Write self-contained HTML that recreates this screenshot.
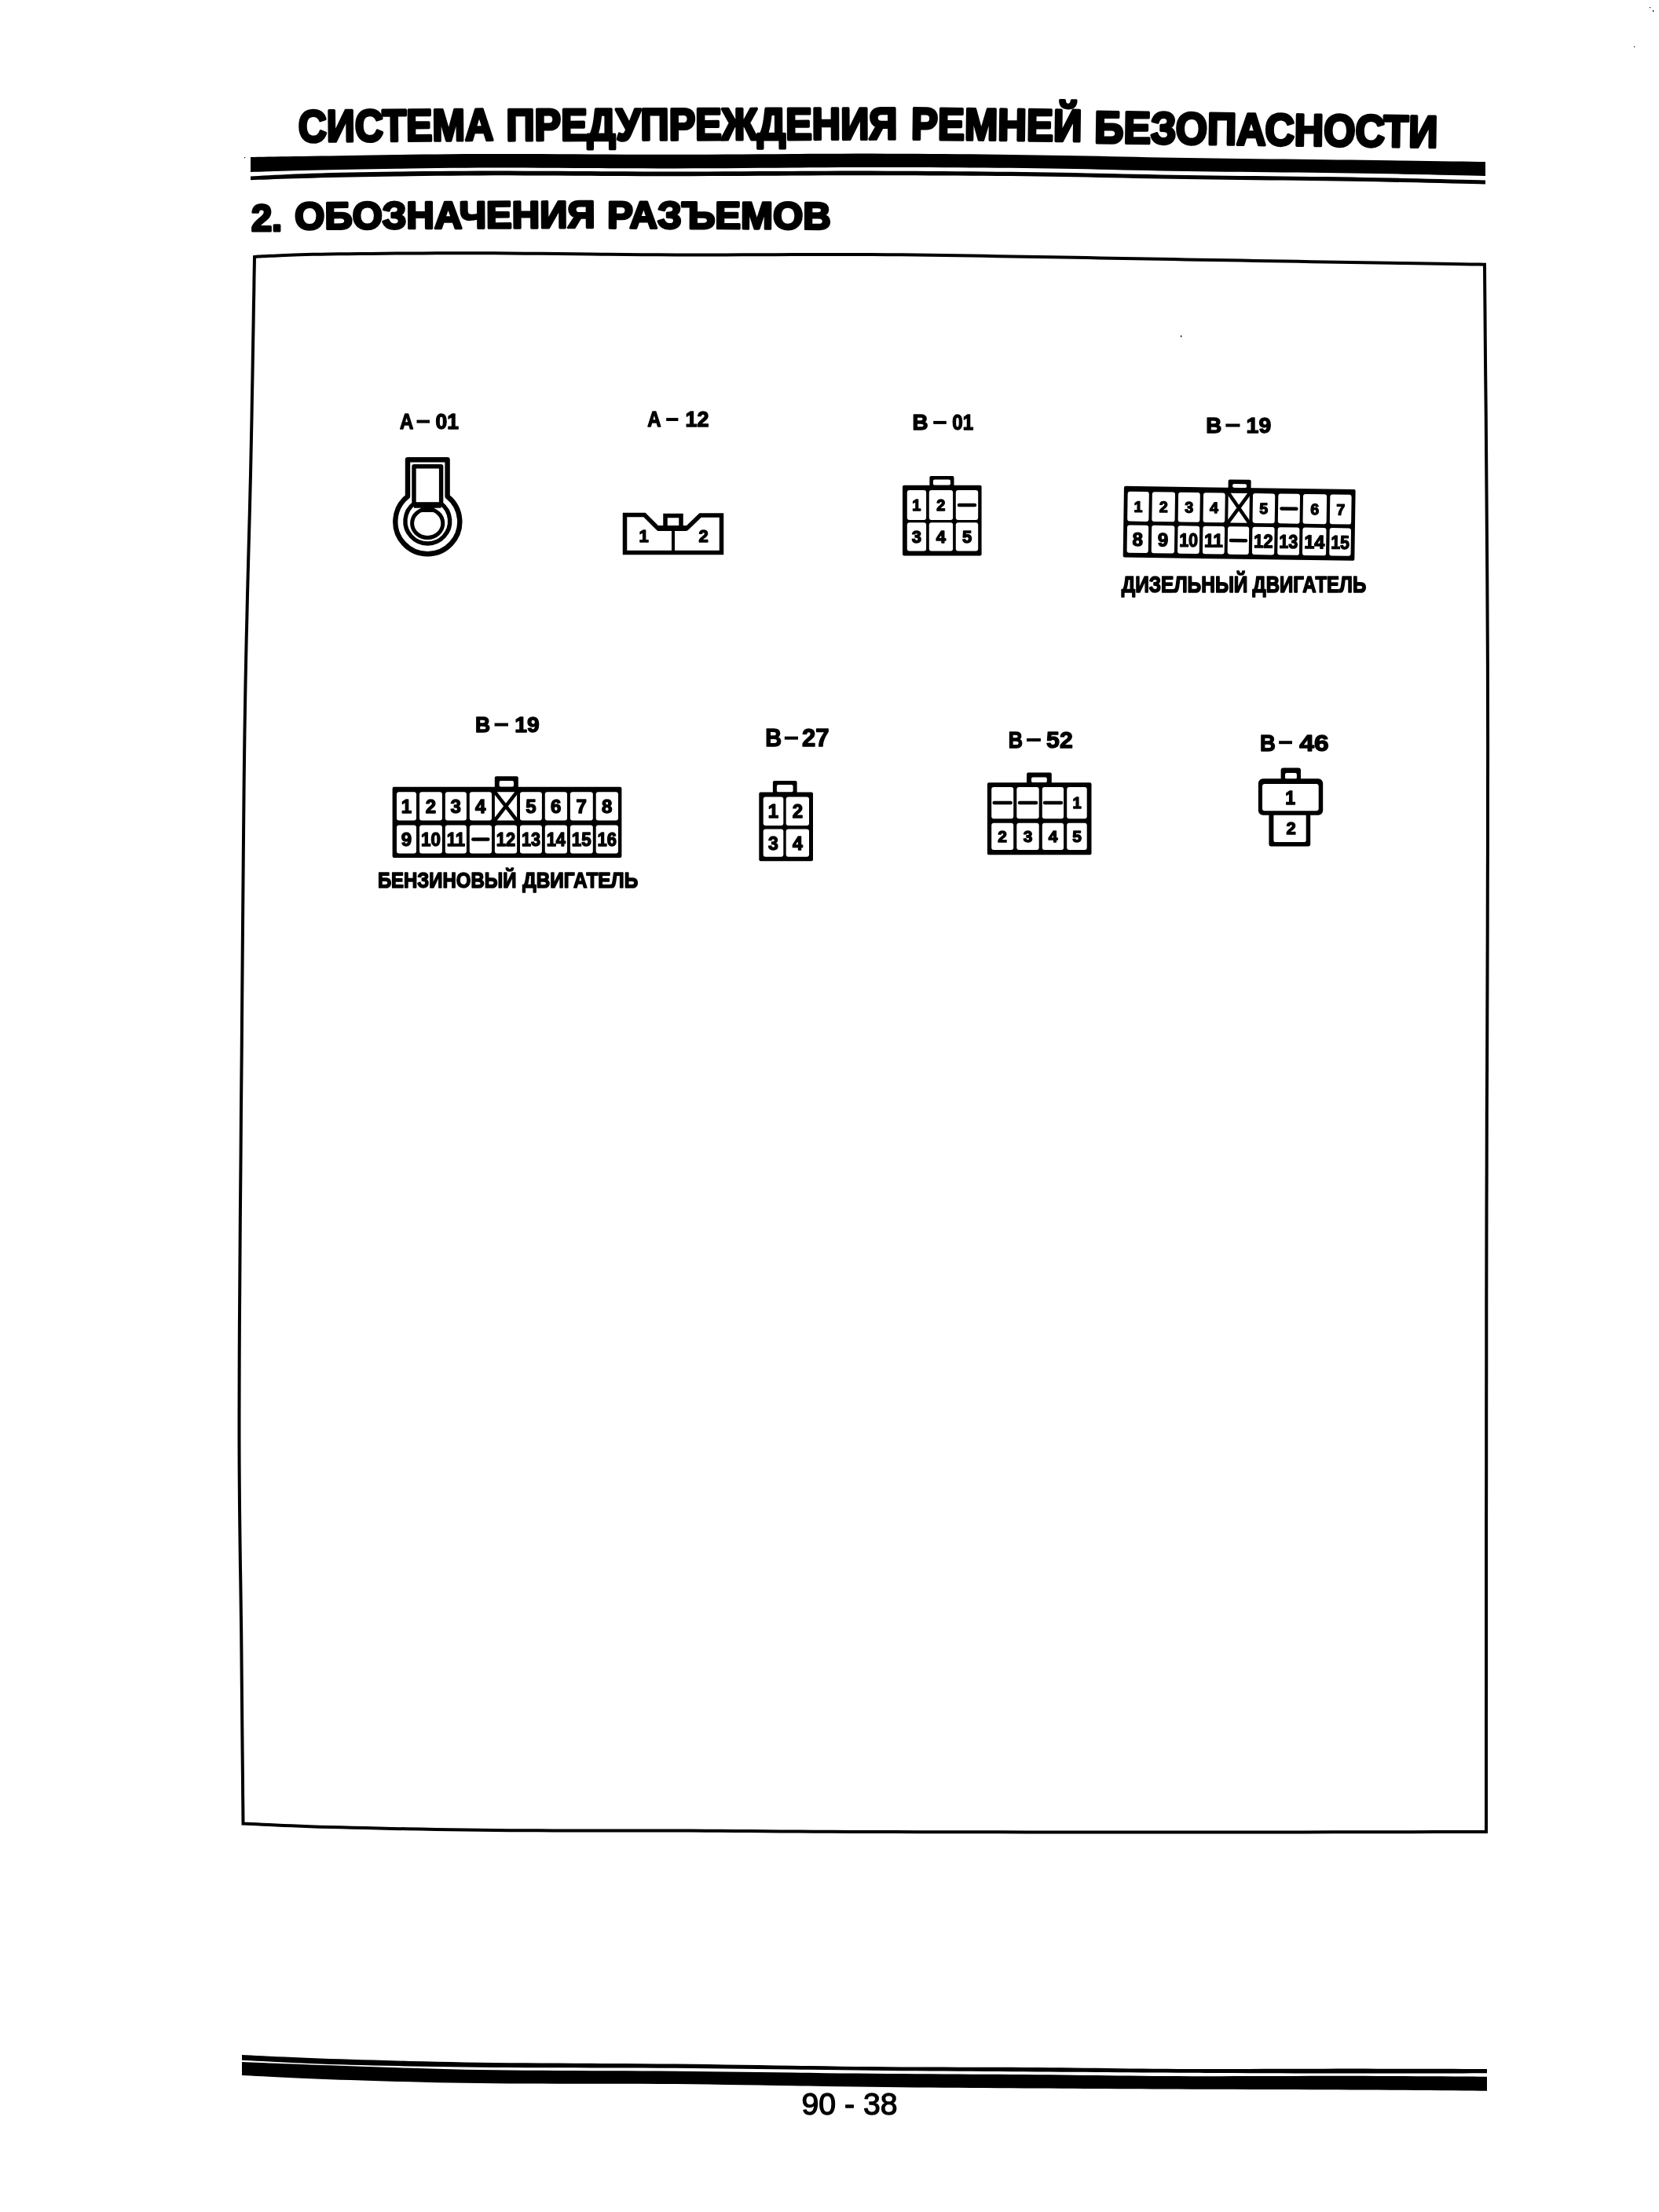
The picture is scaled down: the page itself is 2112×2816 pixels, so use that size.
<!DOCTYPE html>
<html><head><meta charset="utf-8">
<style>
html,body{margin:0;padding:0;background:#fff;}
body{width:2112px;height:2816px;overflow:hidden;position:relative;}
svg{position:absolute;left:0;top:0;will-change:transform;}
text{font-family:"Liberation Sans",sans-serif;fill:#000;}
</style></head>
<body>
<svg width="2112" height="2816" viewBox="0 0 2112 2816">
<polygon points="319.0,200.00 323.6,199.93 329.0,199.84 335.1,199.73 341.9,199.61 349.4,199.49 357.6,199.35 366.5,199.20 376.0,199.05 386.1,198.89 396.8,198.73 408.1,198.57 420.0,198.40 432.5,198.22 445.8,198.01 459.8,197.78 474.5,197.54 489.8,197.29 505.7,197.05 522.1,196.81 538.9,196.59 556.2,196.39 573.8,196.22 591.8,196.09 610.0,196.00 628.7,195.96 648.2,195.97 668.3,196.02 688.9,196.10 709.9,196.21 731.2,196.32 752.8,196.45 774.4,196.56 796.1,196.67 817.6,196.75 839.0,196.79 860.0,196.80 881.0,196.76 902.1,196.68 923.4,196.57 944.8,196.44 966.2,196.29 987.5,196.14 1008.7,195.99 1029.6,195.85 1050.3,195.74 1070.6,195.65 1090.6,195.60 1110.0,195.60 1129.0,195.64 1147.5,195.71 1165.8,195.80 1183.7,195.91 1201.3,196.05 1218.8,196.20 1235.9,196.37 1253.0,196.56 1269.8,196.75 1286.6,196.96 1303.3,197.18 1320.0,197.40 1336.5,197.64 1352.6,197.91 1368.4,198.20 1384.1,198.50 1399.6,198.82 1415.0,199.15 1430.4,199.48 1445.9,199.81 1461.6,200.13 1477.4,200.44 1493.5,200.73 1510.0,201.00 1526.9,201.25 1544.3,201.49 1562.0,201.72 1580.0,201.95 1598.1,202.16 1616.2,202.38 1634.3,202.58 1652.1,202.79 1669.8,202.99 1687.0,203.19 1703.8,203.39 1720.0,203.60 1736.2,203.81 1752.7,204.04 1769.5,204.27 1786.2,204.50 1802.7,204.74 1818.6,204.96 1833.8,205.18 1848.1,205.39 1861.2,205.57 1872.8,205.74 1882.9,205.88 1891.0,206.00 1891.0,224.00 1882.9,223.82 1872.8,223.59 1861.2,223.33 1848.1,223.02 1833.8,222.69 1818.6,222.35 1802.7,222.00 1786.2,221.64 1769.5,221.30 1752.7,220.97 1736.2,220.67 1720.0,220.40 1703.8,220.16 1687.0,219.95 1669.8,219.75 1652.1,219.56 1634.3,219.39 1616.2,219.21 1598.1,219.04 1580.0,218.86 1562.0,218.67 1544.3,218.47 1526.9,218.25 1510.0,218.00 1493.5,217.72 1477.4,217.42 1461.6,217.09 1445.9,216.74 1430.4,216.38 1415.0,216.02 1399.6,215.67 1384.1,215.33 1368.4,215.00 1352.6,214.70 1336.5,214.43 1320.0,214.20 1303.3,214.00 1286.6,213.82 1269.8,213.66 1253.0,213.51 1235.9,213.38 1218.8,213.27 1201.3,213.18 1183.7,213.11 1165.8,213.06 1147.5,213.02 1129.0,213.00 1110.0,213.00 1090.6,213.03 1070.6,213.11 1050.3,213.22 1029.6,213.36 1008.7,213.51 987.5,213.68 966.2,213.84 944.8,214.00 923.4,214.14 902.1,214.26 881.0,214.35 860.0,214.40 839.0,214.40 817.6,214.35 796.1,214.27 774.4,214.17 752.8,214.05 731.2,213.92 709.9,213.80 688.9,213.69 668.3,213.61 648.2,213.56 628.7,213.55 610.0,213.60 591.8,213.70 573.8,213.85 556.2,214.03 538.9,214.24 522.1,214.48 505.7,214.73 489.8,215.00 474.5,215.27 459.8,215.54 445.8,215.81 432.5,216.06 420.0,216.30 408.1,216.53 396.8,216.78 386.1,217.04 376.0,217.30 366.5,217.56 357.6,217.82 349.4,218.07 341.9,218.30 335.1,218.51 329.0,218.71 323.6,218.87 319.0,219.00" fill="#000"/>
<polygon points="319.0,224.40 323.6,224.19 329.0,223.91 335.1,223.59 341.9,223.22 349.4,222.82 357.6,222.41 366.5,221.98 376.0,221.56 386.1,221.15 396.8,220.76 408.1,220.41 420.0,220.10 432.5,219.82 445.8,219.54 459.8,219.27 474.5,219.01 489.8,218.76 505.7,218.52 522.1,218.31 538.9,218.11 556.2,217.94 573.8,217.80 591.8,217.68 610.0,217.60 628.7,217.56 648.2,217.57 668.3,217.63 688.9,217.71 709.9,217.83 731.2,217.95 752.8,218.08 774.4,218.21 796.1,218.32 817.6,218.41 839.0,218.48 860.0,218.50 881.0,218.48 902.1,218.42 923.4,218.34 944.8,218.24 966.2,218.12 987.5,218.00 1008.7,217.88 1029.6,217.77 1050.3,217.68 1070.6,217.62 1090.6,217.59 1110.0,217.60 1129.0,217.64 1147.5,217.71 1165.8,217.80 1183.7,217.90 1201.3,218.02 1218.8,218.16 1235.9,218.32 1253.0,218.49 1269.8,218.67 1286.6,218.87 1303.3,219.08 1320.0,219.30 1336.5,219.54 1352.6,219.81 1368.4,220.11 1384.1,220.43 1399.6,220.76 1415.0,221.09 1430.4,221.44 1445.9,221.77 1461.6,222.11 1477.4,222.42 1493.5,222.72 1510.0,223.00 1526.9,223.25 1544.3,223.48 1562.0,223.70 1580.0,223.90 1598.1,224.10 1616.2,224.29 1634.3,224.48 1652.1,224.68 1669.8,224.88 1687.0,225.10 1703.8,225.34 1720.0,225.60 1736.2,225.89 1752.7,226.22 1769.5,226.57 1786.2,226.95 1802.7,227.33 1818.6,227.71 1833.8,228.09 1848.1,228.44 1861.2,228.77 1872.8,229.06 1882.9,229.31 1891.0,229.50 1891.0,234.40 1882.9,234.22 1872.8,233.98 1861.2,233.71 1848.1,233.40 1833.8,233.06 1818.6,232.71 1802.7,232.35 1786.2,231.99 1769.5,231.63 1752.7,231.30 1736.2,230.98 1720.0,230.70 1703.8,230.45 1687.0,230.21 1669.8,230.00 1652.1,229.79 1634.3,229.59 1616.2,229.39 1598.1,229.20 1580.0,229.00 1562.0,228.79 1544.3,228.58 1526.9,228.35 1510.0,228.10 1493.5,227.83 1477.4,227.53 1461.6,227.22 1445.9,226.89 1430.4,226.55 1415.0,226.22 1399.6,225.89 1384.1,225.57 1368.4,225.26 1352.6,224.98 1336.5,224.72 1320.0,224.50 1303.3,224.30 1286.6,224.12 1269.8,223.96 1253.0,223.81 1235.9,223.68 1218.8,223.56 1201.3,223.46 1183.7,223.38 1165.8,223.31 1147.5,223.26 1129.0,223.22 1110.0,223.20 1090.6,223.21 1070.6,223.25 1050.3,223.33 1029.6,223.43 1008.7,223.54 987.5,223.67 966.2,223.79 944.8,223.91 923.4,224.02 902.1,224.11 881.0,224.17 860.0,224.20 839.0,224.19 817.6,224.13 796.1,224.04 774.4,223.94 752.8,223.82 731.2,223.69 709.9,223.58 688.9,223.47 668.3,223.40 648.2,223.35 628.7,223.35 610.0,223.40 591.8,223.50 573.8,223.64 556.2,223.82 538.9,224.03 522.1,224.26 505.7,224.51 489.8,224.77 474.5,225.04 459.8,225.31 445.8,225.59 432.5,225.85 420.0,226.10 408.1,226.35 396.8,226.63 386.1,226.92 376.0,227.22 366.5,227.52 357.6,227.82 349.4,228.11 341.9,228.38 335.1,228.63 329.0,228.86 323.6,229.05 319.0,229.20" fill="#000"/>
<polygon points="324.0,327.00 324.6,326.96 325.0,326.91 325.4,326.86 325.8,326.80 326.3,326.73 327.1,326.66 328.1,326.57 329.4,326.48 331.2,326.38 333.5,326.27 336.4,326.14 340.0,326.00 344.0,325.84 348.2,325.66 352.7,325.45 357.5,325.23 362.8,325.00 368.6,324.76 375.0,324.53 382.0,324.29 389.9,324.07 398.6,323.86 408.3,323.67 419.0,323.50 430.8,323.34 443.7,323.19 457.5,323.03 472.2,322.88 487.7,322.74 503.8,322.61 520.6,322.50 537.8,322.41 555.5,322.34 573.5,322.29 591.7,322.28 610.0,322.30 628.8,322.37 648.3,322.49 668.4,322.65 689.0,322.85 710.0,323.07 731.3,323.30 752.8,323.54 774.5,323.76 796.1,323.97 817.7,324.16 839.0,324.30 860.0,324.40 881.0,324.44 902.1,324.44 923.4,324.40 944.8,324.33 966.2,324.24 987.5,324.14 1008.7,324.05 1029.6,323.97 1050.3,323.92 1070.6,323.90 1090.6,323.92 1110.0,324.00 1129.0,324.13 1147.5,324.30 1165.8,324.50 1183.7,324.73 1201.3,324.99 1218.8,325.26 1235.9,325.55 1253.0,325.84 1269.8,326.14 1286.6,326.44 1303.3,326.73 1320.0,327.00 1336.5,327.27 1352.6,327.54 1368.4,327.82 1384.1,328.10 1399.6,328.38 1415.0,328.66 1430.4,328.95 1445.9,329.24 1461.6,329.53 1477.4,329.82 1493.5,330.11 1510.0,330.40 1526.9,330.70 1544.3,331.00 1562.0,331.31 1580.0,331.62 1598.1,331.93 1616.2,332.24 1634.3,332.55 1652.2,332.86 1669.8,333.16 1687.1,333.45 1703.8,333.73 1720.0,334.00 1736.1,334.27 1752.6,334.53 1769.3,334.80 1785.9,335.07 1802.3,335.33 1818.1,335.57 1833.2,335.81 1847.4,336.03 1860.4,336.24 1872.0,336.42 1881.9,336.57 1890.0,336.70 1890.2,363.48 1890.5,396.40 1890.8,434.71 1891.2,477.68 1891.7,524.55 1892.1,574.60 1892.5,627.08 1892.9,681.24 1893.3,736.36 1893.6,791.69 1893.9,846.48 1894.0,900.00 1894.1,953.45 1894.0,1008.39 1894.0,1064.64 1893.8,1122.02 1893.7,1180.36 1893.5,1239.46 1893.3,1299.14 1893.1,1359.23 1892.8,1419.55 1892.7,1479.90 1892.5,1540.11 1892.4,1600.00 1892.3,1662.21 1892.3,1728.62 1892.2,1797.91 1892.2,1868.74 1892.1,1939.80 1892.1,2009.75 1892.1,2077.27 1892.1,2141.04 1892.0,2199.72 1892.0,2251.99 1892.0,2296.53 1892.0,2332.00 1874.1,2332.03 1852.0,2332.07 1826.0,2332.11 1797.0,2332.17 1765.3,2332.22 1731.6,2332.28 1696.5,2332.34 1660.6,2332.39 1624.4,2332.43 1588.5,2332.47 1553.5,2332.49 1520.0,2332.50 1486.7,2332.50 1452.0,2332.49 1416.4,2332.47 1380.2,2332.44 1343.8,2332.41 1307.4,2332.38 1271.4,2332.33 1236.2,2332.28 1202.1,2332.22 1169.5,2332.15 1138.7,2332.08 1110.0,2332.00 1083.5,2331.91 1058.8,2331.80 1035.8,2331.67 1014.1,2331.54 993.5,2331.40 973.8,2331.25 954.6,2331.10 935.9,2330.96 917.3,2330.83 898.7,2330.70 879.6,2330.59 860.0,2330.50 840.1,2330.43 820.3,2330.40 800.6,2330.39 781.1,2330.39 761.7,2330.40 742.5,2330.41 723.4,2330.41 704.4,2330.39 685.6,2330.35 666.9,2330.27 648.4,2330.16 630.0,2330.00 611.5,2329.79 592.7,2329.54 573.8,2329.26 554.8,2328.94 536.0,2328.61 517.5,2328.25 499.4,2327.88 481.9,2327.50 465.0,2327.12 449.0,2326.74 434.0,2326.36 420.0,2326.00 407.0,2325.63 394.5,2325.23 382.8,2324.80 371.7,2324.37 361.3,2323.93 351.6,2323.50 342.7,2323.08 334.5,2322.69 327.0,2322.32 320.4,2322.00 314.5,2321.72 309.5,2321.50 309.4,2311.05 309.3,2298.31 309.1,2283.54 309.0,2266.98 308.8,2248.89 308.6,2229.50 308.4,2209.07 308.2,2187.85 308.0,2166.09 307.8,2144.02 307.6,2121.91 307.4,2100.00 307.2,2078.38 306.9,2056.86 306.6,2035.21 306.3,2013.22 305.9,1990.69 305.6,1967.41 305.3,1943.15 305.0,1917.72 304.8,1890.90 304.6,1862.48 304.5,1832.25 304.5,1800.00 304.6,1765.02 304.7,1727.08 304.9,1686.72 305.2,1644.44 305.5,1600.78 305.8,1556.25 306.2,1511.37 306.6,1466.67 306.9,1422.66 307.3,1379.86 307.7,1338.80 308.0,1300.00 308.3,1262.91 308.6,1226.62 308.9,1191.09 309.2,1156.30 309.5,1122.19 309.8,1088.75 310.1,1055.93 310.4,1023.70 310.7,992.03 311.1,960.88 311.5,930.21 312.0,900.00 312.5,870.32 313.1,841.26 313.7,812.80 314.4,784.93 315.0,757.60 315.7,730.81 316.4,704.53 317.1,678.74 317.8,653.41 318.4,628.53 319.0,604.07 319.5,580.00 320.0,555.77 320.5,531.03 320.9,506.11 321.4,481.33 321.8,457.02 322.2,433.50 322.6,411.09 322.9,390.11 323.3,370.89 323.5,353.75 323.8,339.01" fill="none" stroke="#000" stroke-width="4.0" stroke-linejoin="miter"/>
<polygon points="308.0,2616.00 313.2,2616.24 319.3,2616.53 326.3,2616.88 334.1,2617.27 342.8,2617.70 352.1,2618.15 362.1,2618.62 372.7,2619.09 383.9,2619.57 395.5,2620.03 407.6,2620.48 420.0,2620.90 432.9,2621.31 446.5,2621.74 460.6,2622.18 475.3,2622.61 490.6,2623.05 506.4,2623.49 522.6,2623.91 539.3,2624.32 556.5,2624.71 574.0,2625.07 591.8,2625.40 610.0,2625.70 628.7,2625.95 648.2,2626.17 668.3,2626.34 688.9,2626.49 709.9,2626.62 731.2,2626.73 752.8,2626.84 774.4,2626.96 796.1,2627.08 817.6,2627.22 839.0,2627.39 860.0,2627.60 881.0,2627.84 902.1,2628.12 923.4,2628.42 944.8,2628.74 966.2,2629.08 987.5,2629.41 1008.7,2629.74 1029.6,2630.07 1050.3,2630.37 1070.6,2630.65 1090.6,2630.89 1110.0,2631.10 1129.0,2631.26 1147.7,2631.39 1166.0,2631.48 1184.1,2631.56 1201.9,2631.61 1219.4,2631.65 1236.7,2631.69 1253.7,2631.72 1270.5,2631.77 1287.2,2631.82 1303.7,2631.90 1320.0,2632.00 1335.9,2632.13 1351.3,2632.28 1366.2,2632.46 1380.7,2632.64 1395.1,2632.83 1409.4,2633.02 1423.7,2633.21 1438.1,2633.39 1452.9,2633.56 1468.0,2633.70 1483.7,2633.82 1500.0,2633.90 1517.1,2633.95 1534.9,2633.97 1553.3,2633.96 1572.1,2633.94 1591.2,2633.90 1610.4,2633.84 1629.6,2633.79 1648.7,2633.73 1667.4,2633.68 1685.6,2633.63 1703.2,2633.61 1720.0,2633.60 1736.6,2633.61 1753.6,2633.63 1770.6,2633.66 1787.6,2633.70 1804.2,2633.74 1820.2,2633.78 1835.6,2633.83 1849.9,2633.87 1863.0,2633.91 1874.7,2633.95 1884.8,2633.98 1893.0,2634.00 1893.0,2639.30 1884.8,2639.32 1874.7,2639.35 1863.0,2639.38 1849.9,2639.42 1835.6,2639.46 1820.2,2639.51 1804.2,2639.54 1787.6,2639.58 1770.6,2639.60 1753.6,2639.62 1736.6,2639.62 1720.0,2639.60 1703.2,2639.57 1685.6,2639.52 1667.4,2639.47 1648.7,2639.40 1629.6,2639.33 1610.4,2639.25 1591.2,2639.16 1572.1,2639.07 1553.3,2638.98 1534.9,2638.89 1517.1,2638.79 1500.0,2638.70 1483.7,2638.61 1468.0,2638.51 1452.9,2638.41 1438.1,2638.31 1423.7,2638.20 1409.4,2638.09 1395.1,2637.98 1380.7,2637.87 1366.2,2637.76 1351.3,2637.64 1335.9,2637.52 1320.0,2637.40 1303.7,2637.28 1287.2,2637.17 1270.5,2637.05 1253.7,2636.94 1236.7,2636.83 1219.4,2636.71 1201.9,2636.58 1184.1,2636.45 1166.0,2636.31 1147.7,2636.15 1129.0,2635.98 1110.0,2635.80 1090.6,2635.59 1070.6,2635.36 1050.3,2635.10 1029.6,2634.83 1008.7,2634.55 987.5,2634.26 966.2,2633.98 944.8,2633.70 923.4,2633.44 902.1,2633.20 881.0,2632.98 860.0,2632.80 839.0,2632.66 817.6,2632.55 796.1,2632.48 774.4,2632.43 752.8,2632.39 731.2,2632.36 709.9,2632.32 688.9,2632.27 668.3,2632.21 648.2,2632.11 628.7,2631.98 610.0,2631.80 591.8,2631.58 574.0,2631.33 556.5,2631.06 539.3,2630.76 522.6,2630.45 506.4,2630.11 490.6,2629.76 475.3,2629.40 460.6,2629.03 446.5,2628.66 432.9,2628.28 420.0,2627.90 407.6,2627.50 395.5,2627.05 383.9,2626.57 372.7,2626.07 362.1,2625.56 352.1,2625.06 342.8,2624.56 334.1,2624.10 326.3,2623.66 319.3,2623.28 313.2,2622.96 308.0,2622.70" fill="#000"/>
<polygon points="308.0,2625.00 313.2,2625.20 319.3,2625.45 326.3,2625.74 334.1,2626.06 342.8,2626.42 352.1,2626.79 362.1,2627.19 372.7,2627.60 383.9,2628.03 395.5,2628.45 407.6,2628.88 420.0,2629.30 432.9,2629.74 446.5,2630.21 460.6,2630.72 475.3,2631.24 490.6,2631.77 506.4,2632.31 522.6,2632.83 539.3,2633.34 556.5,2633.82 574.0,2634.26 591.8,2634.66 610.0,2635.00 628.7,2635.28 648.2,2635.51 668.3,2635.70 688.9,2635.84 709.9,2635.97 731.2,2636.07 752.8,2636.16 774.4,2636.26 796.1,2636.36 817.6,2636.48 839.0,2636.62 860.0,2636.80 881.0,2637.01 902.1,2637.25 923.4,2637.50 944.8,2637.77 966.2,2638.05 987.5,2638.32 1008.7,2638.60 1029.6,2638.87 1050.3,2639.13 1070.6,2639.38 1090.6,2639.60 1110.0,2639.80 1129.0,2639.97 1147.7,2640.12 1166.0,2640.25 1184.1,2640.37 1201.9,2640.47 1219.4,2640.57 1236.7,2640.66 1253.7,2640.76 1270.5,2640.85 1287.2,2640.96 1303.7,2641.07 1320.0,2641.20 1335.9,2641.35 1351.3,2641.51 1366.2,2641.69 1380.7,2641.88 1395.1,2642.07 1409.4,2642.26 1423.7,2642.44 1438.1,2642.61 1452.9,2642.77 1468.0,2642.90 1483.7,2643.02 1500.0,2643.10 1517.1,2643.15 1534.9,2643.16 1553.3,2643.15 1572.1,2643.12 1591.2,2643.07 1610.4,2643.01 1629.6,2642.95 1648.7,2642.89 1667.4,2642.84 1685.6,2642.81 1703.2,2642.79 1720.0,2642.80 1736.6,2642.84 1753.6,2642.89 1770.6,2642.96 1787.6,2643.04 1804.2,2643.14 1820.2,2643.23 1835.6,2643.33 1849.9,2643.42 1863.0,2643.51 1874.7,2643.59 1884.8,2643.65 1893.0,2643.70 1893.0,2661.70 1884.8,2661.64 1874.7,2661.55 1863.0,2661.45 1849.9,2661.34 1835.6,2661.23 1820.2,2661.10 1804.2,2660.97 1787.6,2660.84 1770.6,2660.72 1753.6,2660.60 1736.6,2660.49 1720.0,2660.40 1703.2,2660.32 1685.6,2660.24 1667.4,2660.17 1648.7,2660.11 1629.6,2660.05 1610.4,2659.99 1591.2,2659.93 1572.1,2659.87 1553.3,2659.81 1534.9,2659.74 1517.1,2659.68 1500.0,2659.60 1483.7,2659.52 1468.0,2659.44 1452.9,2659.36 1438.1,2659.28 1423.7,2659.19 1409.4,2659.11 1395.1,2659.02 1380.7,2658.92 1366.2,2658.82 1351.3,2658.72 1335.9,2658.61 1320.0,2658.50 1303.7,2658.39 1287.2,2658.27 1270.5,2658.16 1253.7,2658.05 1236.7,2657.94 1219.4,2657.81 1201.9,2657.68 1184.1,2657.54 1166.0,2657.38 1147.7,2657.21 1129.0,2657.01 1110.0,2656.80 1090.6,2656.55 1070.6,2656.27 1050.3,2655.95 1029.6,2655.61 1008.7,2655.26 987.5,2654.91 966.2,2654.55 944.8,2654.21 923.4,2653.88 902.1,2653.58 881.0,2653.32 860.0,2653.10 839.0,2652.93 817.6,2652.82 796.1,2652.75 774.4,2652.71 752.8,2652.69 731.2,2652.67 709.9,2652.66 688.9,2652.62 668.3,2652.56 648.2,2652.46 628.7,2652.31 610.0,2652.10 591.8,2651.83 574.0,2651.51 556.5,2651.16 539.3,2650.77 522.6,2650.35 506.4,2649.91 490.6,2649.46 475.3,2649.00 460.6,2648.54 446.5,2648.08 432.9,2647.63 420.0,2647.20 407.6,2646.76 395.5,2646.29 383.9,2645.80 372.7,2645.30 362.1,2644.79 352.1,2644.29 342.8,2643.81 334.1,2643.36 326.3,2642.94 319.3,2642.57 313.2,2642.25 308.0,2642.00" fill="#000"/>
<g transform="rotate(-0.5 504 179.3)"><text x="380.0" y="179.3" font-size="56.8" font-weight="bold" text-anchor="start" textLength="248.27" lengthAdjust="spacingAndGlyphs" stroke="#000" stroke-width="3.8" stroke-linejoin="round">СИСТЕМА</text></g>
<g transform="rotate(-0.2 894 177.8)"><text x="644.4" y="177.8" font-size="56.8" font-weight="bold" text-anchor="start" textLength="498.13" lengthAdjust="spacingAndGlyphs" stroke="#000" stroke-width="3.8" stroke-linejoin="round">ПРЕДУПРЕЖДЕНИЯ</text></g>
<g transform="rotate(0.7 1268 178.3)"><text x="1159.8" y="178.3" font-size="56.8" font-weight="bold" text-anchor="start" textLength="217.42" lengthAdjust="spacingAndGlyphs" stroke="#000" stroke-width="3.8" stroke-linejoin="round">РЕМНЕЙ</text></g>
<g transform="rotate(0.8 1612 184.5)"><text x="1393.1" y="184.5" font-size="56.8" font-weight="bold" text-anchor="start" textLength="437.04" lengthAdjust="spacingAndGlyphs" stroke="#000" stroke-width="3.8" stroke-linejoin="round">БЕЗОПАСНОСТИ</text></g>
<g transform="rotate(0 338 294.4)"><text x="319.9" y="294.4" font-size="48.3" font-weight="bold" text-anchor="start" textLength="39.32" lengthAdjust="spacingAndGlyphs" stroke="#000" stroke-width="3.2" stroke-linejoin="round">2.</text></g>
<g transform="rotate(-0.31 566 290.6)"><text x="375.3" y="290.6" font-size="48.3" font-weight="bold" text-anchor="start" textLength="382.4" lengthAdjust="spacingAndGlyphs" stroke="#000" stroke-width="3.2" stroke-linejoin="round">ОБОЗНАЧЕНИЯ</text></g>
<g transform="rotate(0.29 916 290.9)"><text x="773.0" y="290.9" font-size="48.3" font-weight="bold" text-anchor="start" textLength="284.65" lengthAdjust="spacingAndGlyphs" stroke="#000" stroke-width="3.2" stroke-linejoin="round">РАЗЪЕМОВ</text></g>
<text x="1020.5" y="2691.6" font-size="38.2" font-weight="normal" text-anchor="start" textLength="122" lengthAdjust="spacingAndGlyphs" stroke="#000" stroke-width="1.3" stroke-linejoin="round">90 - 38</text>
<rect x="2100" y="9" width="1.2" height="1.2" fill="#000"/><rect x="2104" y="13" width="1.2" height="2" fill="#000"/><rect x="2080" y="59" width="1.2" height="1.2" fill="#000"/><rect x="1503" y="427" width="1.3" height="2.2" fill="#000"/><rect x="311" y="200" width="1.2" height="1.2" fill="#000"/>
<text x="509.0" y="545.9000000000001" font-size="27.5" font-weight="bold" text-anchor="start" textLength="17.31" lengthAdjust="spacingAndGlyphs" stroke="#000" stroke-width="1.4" stroke-linejoin="round">A</text><rect x="530.5" y="534.6" width="16.5" height="4" fill="#000"/><text x="554.6" y="545.9000000000001" font-size="27.5" font-weight="bold" text-anchor="start" textLength="29.46" lengthAdjust="spacingAndGlyphs" stroke="#000" stroke-width="1.4" stroke-linejoin="round">01</text>
<text x="824.2" y="543.2" font-size="27.5" font-weight="bold" text-anchor="start" textLength="17.31" lengthAdjust="spacingAndGlyphs" stroke="#000" stroke-width="1.4" stroke-linejoin="round">A</text><rect x="848.2" y="532.0" width="15.2" height="4" fill="#000"/><text x="872.5" y="543.2" font-size="27.5" font-weight="bold" text-anchor="start" textLength="29.95" lengthAdjust="spacingAndGlyphs" stroke="#000" stroke-width="1.4" stroke-linejoin="round">12</text>
<text x="1161.6" y="546.9000000000001" font-size="27.5" font-weight="bold" text-anchor="start" textLength="20.07" lengthAdjust="spacingAndGlyphs" stroke="#000" stroke-width="1.4" stroke-linejoin="round">B</text><rect x="1188.2" y="535.9" width="16.6" height="4" fill="#000"/><text x="1212.3" y="546.9000000000001" font-size="27.5" font-weight="bold" text-anchor="start" textLength="26.84" lengthAdjust="spacingAndGlyphs" stroke="#000" stroke-width="1.4" stroke-linejoin="round">01</text>
<text x="1535.3" y="551.2" font-size="28.5" font-weight="bold" text-anchor="start" textLength="20.07" lengthAdjust="spacingAndGlyphs" stroke="#000" stroke-width="1.4" stroke-linejoin="round">B</text><rect x="1560.4" y="539.5" width="18.1" height="4" fill="#000"/><text x="1586.6" y="551.2" font-size="28.5" font-weight="bold" text-anchor="start" textLength="31.59" lengthAdjust="spacingAndGlyphs" stroke="#000" stroke-width="1.4" stroke-linejoin="round">19</text>
<text x="605.0" y="932.0" font-size="28" font-weight="bold" text-anchor="start" textLength="19.14" lengthAdjust="spacingAndGlyphs" stroke="#000" stroke-width="1.4" stroke-linejoin="round">B</text><rect x="629.6" y="920.5" width="17.4" height="4" fill="#000"/><text x="655.3" y="932.0" font-size="28" font-weight="bold" text-anchor="start" textLength="31.39" lengthAdjust="spacingAndGlyphs" stroke="#000" stroke-width="1.4" stroke-linejoin="round">19</text>
<text x="974.3" y="949.9000000000001" font-size="30.5" font-weight="bold" text-anchor="start" textLength="20.82" lengthAdjust="spacingAndGlyphs" stroke="#000" stroke-width="1.4" stroke-linejoin="round">B</text><rect x="998.8" y="937.6" width="17.2" height="4" fill="#000"/><text x="1021.0" y="949.9000000000001" font-size="30.5" font-weight="bold" text-anchor="start" textLength="34.6" lengthAdjust="spacingAndGlyphs" stroke="#000" stroke-width="1.4" stroke-linejoin="round">27</text>
<text x="1283.8" y="952.0" font-size="30" font-weight="bold" text-anchor="start" textLength="18.25" lengthAdjust="spacingAndGlyphs" stroke="#000" stroke-width="1.4" stroke-linejoin="round">B</text><rect x="1307" y="939.9" width="17.9" height="4" fill="#000"/><text x="1332.1" y="952.0" font-size="30" font-weight="bold" text-anchor="start" textLength="33.63" lengthAdjust="spacingAndGlyphs" stroke="#000" stroke-width="1.4" stroke-linejoin="round">52</text>
<text x="1603.9" y="955.7" font-size="30" font-weight="bold" text-anchor="start" textLength="19.86" lengthAdjust="spacingAndGlyphs" stroke="#000" stroke-width="1.4" stroke-linejoin="round">B</text><rect x="1628.1" y="943.2" width="16.9" height="4" fill="#000"/><text x="1654.3" y="955.7" font-size="30" font-weight="bold" text-anchor="start" textLength="37.38" lengthAdjust="spacingAndGlyphs" stroke="#000" stroke-width="1.4" stroke-linejoin="round">46</text>
<text x="1427.7" y="753.6" font-size="29.1" font-weight="bold" text-anchor="start" textLength="160.77" lengthAdjust="spacingAndGlyphs" stroke="#000" stroke-width="1.6" stroke-linejoin="round">ДИЗЕЛЬНЫЙ</text>
<text x="1594.6" y="753.8" font-size="29.1" font-weight="bold" text-anchor="start" textLength="144.55" lengthAdjust="spacingAndGlyphs" stroke="#000" stroke-width="1.6" stroke-linejoin="round">ДВИГАТЕЛЬ</text>
<text x="480.9" y="1130" font-size="27.5" font-weight="bold" text-anchor="start" textLength="176.56" lengthAdjust="spacingAndGlyphs" stroke="#000" stroke-width="1.6" stroke-linejoin="round">БЕНЗИНОВЫЙ</text>
<text x="665.3" y="1130" font-size="27.5" font-weight="bold" text-anchor="start" textLength="146.87" lengthAdjust="spacingAndGlyphs" stroke="#000" stroke-width="1.6" stroke-linejoin="round">ДВИГАТЕЛЬ</text>
<g><path d="M519.0,631.94 V585.2 H569.5999999999999 V631.94 A41.0,41.0 0 1 1 519.0,631.94 Z" fill="none" stroke="#000" stroke-width="6.4" stroke-linejoin="round"/><path d="M527.0,641.08 V593.8 H561.5999999999999 V641.08 A28.4,28.4 0 1 1 527.0,641.08 Z" fill="none" stroke="#000" stroke-width="5.4" stroke-linejoin="round"/><rect x="527.0" y="639.2" width="34.6" height="7.5" fill="#000"/><rect x="536" y="644" width="17" height="8" fill="#000"/><ellipse cx="544.2" cy="666.3" rx="19.6" ry="18.2" fill="none" stroke="#000" stroke-width="5"/></g>
<path d="M795.5,655.5 H820.5 L837.5,672.5 H847 V656.5 H867 V672.5 H874.5 L891.5,656 H918.5 V703.5 H795.5 Z" fill="none" stroke="#000" stroke-width="5.5" stroke-linejoin="miter"/>
<path d="M837,672.5 H874.5" stroke="#000" stroke-width="7"/>
<line x1="857" y1="674" x2="857" y2="703" stroke="#000" stroke-width="4"/>
<text x="819.5" y="690" font-size="22" font-weight="bold" text-anchor="middle" stroke="#000" stroke-width="1.4" stroke-linejoin="round">1</text>
<text x="895.5" y="690" font-size="22" font-weight="bold" text-anchor="middle" stroke="#000" stroke-width="1.4" stroke-linejoin="round">2</text>
<rect x="1183.4" y="605.9" width="31.09999999999991" height="18.099999999999977" rx="2" fill="#000"/><rect x="1187.9" y="610.4" width="22.09999999999991" height="7.399999999999977" rx="2" fill="#fff"/><rect x="1149" y="617.8" width="100.59999999999991" height="89.70000000000005" rx="2" fill="#000"/><rect x="1154.8" y="624.0" width="24.3" height="37.9" rx="3" fill="#fff"/><rect x="1182.8" y="624.0" width="30.3" height="37.9" rx="3" fill="#fff"/><rect x="1216.8" y="624.0" width="28.4" height="37.9" rx="3" fill="#fff"/><rect x="1154.8" y="665.3" width="24.3" height="36.1" rx="3" fill="#fff"/><rect x="1182.8" y="665.3" width="30.3" height="36.1" rx="3" fill="#fff"/><rect x="1216.8" y="665.3" width="28.4" height="36.1" rx="3" fill="#fff"/><text x="1166.9" y="650.2" font-size="20" font-weight="bold" text-anchor="middle" stroke="#000" stroke-width="1.4" stroke-linejoin="round">1</text><text x="1197.9" y="650.2" font-size="20" font-weight="bold" text-anchor="middle" stroke="#000" stroke-width="1.4" stroke-linejoin="round">2</text><line x1="1221.0" y1="643.0" x2="1241.0" y2="643.0" stroke="#000" stroke-width="4.5" stroke-linecap="round"/><text x="1166.9" y="691.3" font-size="22" font-weight="bold" text-anchor="middle" stroke="#000" stroke-width="1.4" stroke-linejoin="round">3</text><text x="1197.9" y="691.3" font-size="22" font-weight="bold" text-anchor="middle" stroke="#000" stroke-width="1.4" stroke-linejoin="round">4</text><text x="1231.0" y="691.3" font-size="22" font-weight="bold" text-anchor="middle" stroke="#000" stroke-width="1.4" stroke-linejoin="round">5</text>
<g transform="rotate(0.83 1577.7 666.3)"><rect x="1562.9" y="610.6" width="29.0" height="17.150000000000023" rx="2" fill="#000"/><rect x="1568.4" y="616.1" width="18.0" height="4.899999999999977" rx="2" fill="#fff"/><rect x="1430.3" y="620.95" width="294.70000000000005" height="90.69999999999993" rx="2" fill="#000"/><rect x="1435.1" y="627.8" width="27.2" height="37.8" rx="3" fill="#fff"/><rect x="1466.3" y="627.8" width="29.2" height="37.8" rx="3" fill="#fff"/><rect x="1499.6" y="627.8" width="27.7" height="37.8" rx="3" fill="#fff"/><rect x="1531.5" y="627.8" width="27.7" height="37.8" rx="3" fill="#fff"/><rect x="1563.2" y="627.8" width="27.1" height="37.8" rx="3" fill="#fff"/><rect x="1594.5" y="627.8" width="28.2" height="37.8" rx="3" fill="#fff"/><rect x="1626.8" y="627.8" width="27.7" height="37.8" rx="3" fill="#fff"/><rect x="1658.5" y="627.8" width="30.1" height="37.8" rx="3" fill="#fff"/><rect x="1692.8" y="627.8" width="27.3" height="37.8" rx="3" fill="#fff"/><rect x="1435.1" y="670.4" width="27.2" height="35.4" rx="3" fill="#fff"/><rect x="1466.3" y="670.4" width="29.2" height="35.4" rx="3" fill="#fff"/><rect x="1499.6" y="670.4" width="27.7" height="35.4" rx="3" fill="#fff"/><rect x="1531.5" y="670.4" width="27.7" height="35.4" rx="3" fill="#fff"/><rect x="1563.2" y="670.4" width="27.1" height="35.4" rx="3" fill="#fff"/><rect x="1594.5" y="670.4" width="28.2" height="35.4" rx="3" fill="#fff"/><rect x="1626.8" y="670.4" width="27.7" height="35.4" rx="3" fill="#fff"/><rect x="1658.5" y="670.4" width="30.1" height="35.4" rx="3" fill="#fff"/><rect x="1692.8" y="670.4" width="27.3" height="35.4" rx="3" fill="#fff"/><text x="1448.7" y="653.6" font-size="19.5" font-weight="bold" text-anchor="middle" stroke="#000" stroke-width="1.4" stroke-linejoin="round">1</text><text x="1480.9" y="653.6" font-size="19.5" font-weight="bold" text-anchor="middle" stroke="#000" stroke-width="1.4" stroke-linejoin="round">2</text><text x="1513.5" y="653.6" font-size="19.5" font-weight="bold" text-anchor="middle" stroke="#000" stroke-width="1.4" stroke-linejoin="round">3</text><text x="1545.3" y="653.6" font-size="19.5" font-weight="bold" text-anchor="middle" stroke="#000" stroke-width="1.4" stroke-linejoin="round">4</text><path d="M1563.25,627.75 L1590.3500000000001,665.5 M1590.3500000000001,627.75 L1563.25,665.5" stroke="#000" stroke-width="4.5"/><text x="1608.6" y="653.6" font-size="19.5" font-weight="bold" text-anchor="middle" stroke="#000" stroke-width="1.4" stroke-linejoin="round">5</text><line x1="1631.1" y1="646.6" x2="1650.1" y2="646.6" stroke="#000" stroke-width="4.5" stroke-linecap="round"/><text x="1673.6" y="653.6" font-size="19.5" font-weight="bold" text-anchor="middle" stroke="#000" stroke-width="1.4" stroke-linejoin="round">6</text><text x="1706.4" y="653.6" font-size="19.5" font-weight="bold" text-anchor="middle" stroke="#000" stroke-width="1.4" stroke-linejoin="round">7</text><text x="1448.7" y="696.8" font-size="24" font-weight="bold" text-anchor="middle" stroke="#000" stroke-width="1.4" stroke-linejoin="round">8</text><text x="1480.9" y="696.8" font-size="24" font-weight="bold" text-anchor="middle" stroke="#000" stroke-width="1.4" stroke-linejoin="round">9</text><text x="1513.5" y="696.8" font-size="24" font-weight="bold" text-anchor="middle" textLength="23.8" lengthAdjust="spacingAndGlyphs" stroke="#000" stroke-width="1.4" stroke-linejoin="round">10</text><text x="1545.3" y="696.8" font-size="24" font-weight="bold" text-anchor="middle" textLength="23.8" lengthAdjust="spacingAndGlyphs" stroke="#000" stroke-width="1.4" stroke-linejoin="round">11</text><line x1="1567.3" y1="688.1" x2="1586.3" y2="688.1" stroke="#000" stroke-width="4.5" stroke-linecap="round"/><text x="1608.6" y="696.8" font-size="24" font-weight="bold" text-anchor="middle" textLength="24.3" lengthAdjust="spacingAndGlyphs" stroke="#000" stroke-width="1.4" stroke-linejoin="round">12</text><text x="1640.6" y="696.8" font-size="24" font-weight="bold" text-anchor="middle" textLength="23.8" lengthAdjust="spacingAndGlyphs" stroke="#000" stroke-width="1.4" stroke-linejoin="round">13</text><text x="1673.6" y="696.8" font-size="24" font-weight="bold" text-anchor="middle" textLength="25.9" lengthAdjust="spacingAndGlyphs" stroke="#000" stroke-width="1.4" stroke-linejoin="round">14</text><text x="1706.4" y="696.8" font-size="24" font-weight="bold" text-anchor="middle" textLength="23.5" lengthAdjust="spacingAndGlyphs" stroke="#000" stroke-width="1.4" stroke-linejoin="round">15</text></g>
<rect x="629.8" y="988.2" width="30.0" height="20.0" rx="2" fill="#000"/><rect x="635.5999999999999" y="994.0" width="18.4" height="7.7" rx="2" fill="#fff"/><rect x="499.6" y="1001.7" width="291.79999999999995" height="90.20000000000005" rx="2" fill="#000"/><rect x="505.0" y="1008.2" width="25.0" height="36.3" rx="3" fill="#fff"/><rect x="534.0" y="1008.2" width="28.9" height="36.3" rx="3" fill="#fff"/><rect x="566.8" y="1008.2" width="27.1" height="36.3" rx="3" fill="#fff"/><rect x="597.8" y="1008.2" width="28.2" height="36.3" rx="3" fill="#fff"/><rect x="629.9" y="1008.2" width="28.2" height="36.3" rx="3" fill="#fff"/><rect x="662.0" y="1008.2" width="27.9" height="36.3" rx="3" fill="#fff"/><rect x="693.8" y="1008.2" width="28.2" height="36.3" rx="3" fill="#fff"/><rect x="725.9" y="1008.2" width="28.9" height="36.3" rx="3" fill="#fff"/><rect x="758.7" y="1008.2" width="28.3" height="36.3" rx="3" fill="#fff"/><rect x="505.0" y="1050.5" width="25.0" height="36.1" rx="3" fill="#fff"/><rect x="534.0" y="1050.5" width="28.9" height="36.1" rx="3" fill="#fff"/><rect x="566.8" y="1050.5" width="27.1" height="36.1" rx="3" fill="#fff"/><rect x="597.8" y="1050.5" width="28.2" height="36.1" rx="3" fill="#fff"/><rect x="629.9" y="1050.5" width="28.2" height="36.1" rx="3" fill="#fff"/><rect x="662.0" y="1050.5" width="27.9" height="36.1" rx="3" fill="#fff"/><rect x="693.8" y="1050.5" width="28.2" height="36.1" rx="3" fill="#fff"/><rect x="725.9" y="1050.5" width="28.9" height="36.1" rx="3" fill="#fff"/><rect x="758.7" y="1050.5" width="28.3" height="36.1" rx="3" fill="#fff"/><text x="517.5" y="1035.0" font-size="24" font-weight="bold" text-anchor="middle" stroke="#000" stroke-width="1.4" stroke-linejoin="round">1</text><text x="548.4" y="1035.0" font-size="24" font-weight="bold" text-anchor="middle" stroke="#000" stroke-width="1.4" stroke-linejoin="round">2</text><text x="580.3" y="1035.0" font-size="24" font-weight="bold" text-anchor="middle" stroke="#000" stroke-width="1.4" stroke-linejoin="round">3</text><text x="611.8" y="1035.0" font-size="24" font-weight="bold" text-anchor="middle" stroke="#000" stroke-width="1.4" stroke-linejoin="round">4</text><path d="M629.85,1008.2 L658.05,1044.5 M658.05,1008.2 L629.85,1044.5" stroke="#000" stroke-width="4.5"/><text x="675.9" y="1035.0" font-size="24" font-weight="bold" text-anchor="middle" stroke="#000" stroke-width="1.4" stroke-linejoin="round">5</text><text x="707.8" y="1035.0" font-size="24" font-weight="bold" text-anchor="middle" stroke="#000" stroke-width="1.4" stroke-linejoin="round">6</text><text x="740.3" y="1035.0" font-size="24" font-weight="bold" text-anchor="middle" stroke="#000" stroke-width="1.4" stroke-linejoin="round">7</text><text x="772.8" y="1035.0" font-size="24" font-weight="bold" text-anchor="middle" stroke="#000" stroke-width="1.4" stroke-linejoin="round">8</text><text x="517.5" y="1077.2" font-size="24" font-weight="bold" text-anchor="middle" stroke="#000" stroke-width="1.4" stroke-linejoin="round">9</text><text x="548.4" y="1077.2" font-size="24" font-weight="bold" text-anchor="middle" textLength="24.9" lengthAdjust="spacingAndGlyphs" stroke="#000" stroke-width="1.4" stroke-linejoin="round">10</text><text x="580.3" y="1077.2" font-size="24" font-weight="bold" text-anchor="middle" textLength="23.3" lengthAdjust="spacingAndGlyphs" stroke="#000" stroke-width="1.4" stroke-linejoin="round">11</text><line x1="602.3" y1="1068.6" x2="621.3" y2="1068.6" stroke="#000" stroke-width="4.5" stroke-linecap="round"/><text x="644.0" y="1077.2" font-size="24" font-weight="bold" text-anchor="middle" textLength="24.3" lengthAdjust="spacingAndGlyphs" stroke="#000" stroke-width="1.4" stroke-linejoin="round">12</text><text x="675.9" y="1077.2" font-size="24" font-weight="bold" text-anchor="middle" textLength="24.0" lengthAdjust="spacingAndGlyphs" stroke="#000" stroke-width="1.4" stroke-linejoin="round">13</text><text x="707.8" y="1077.2" font-size="24" font-weight="bold" text-anchor="middle" textLength="24.3" lengthAdjust="spacingAndGlyphs" stroke="#000" stroke-width="1.4" stroke-linejoin="round">14</text><text x="740.3" y="1077.2" font-size="24" font-weight="bold" text-anchor="middle" textLength="24.9" lengthAdjust="spacingAndGlyphs" stroke="#000" stroke-width="1.4" stroke-linejoin="round">15</text><text x="772.8" y="1077.2" font-size="24" font-weight="bold" text-anchor="middle" textLength="24.4" lengthAdjust="spacingAndGlyphs" stroke="#000" stroke-width="1.4" stroke-linejoin="round">16</text>
<rect x="983.9" y="994.1" width="30.700000000000045" height="20.3" rx="2" fill="#000"/><rect x="988.9" y="999.1" width="20.700000000000045" height="9.5" rx="2" fill="#fff"/><rect x="966.3" y="1008.6" width="68.70000000000005" height="87.69999999999993" rx="2" fill="#000"/><rect x="971.7" y="1014.4" width="25.6" height="36.6" rx="3" fill="#fff"/><rect x="1000.7" y="1014.4" width="29.3" height="36.6" rx="3" fill="#fff"/><rect x="971.7" y="1055.5" width="25.6" height="35.2" rx="3" fill="#fff"/><rect x="1000.7" y="1055.5" width="29.3" height="35.2" rx="3" fill="#fff"/><text x="984.5" y="1041.4" font-size="24" font-weight="bold" text-anchor="middle" stroke="#000" stroke-width="1.4" stroke-linejoin="round">1</text><text x="1015.4" y="1041.4" font-size="24" font-weight="bold" text-anchor="middle" stroke="#000" stroke-width="1.4" stroke-linejoin="round">2</text><text x="984.5" y="1081.5" font-size="23" font-weight="bold" text-anchor="middle" stroke="#000" stroke-width="1.4" stroke-linejoin="round">3</text><text x="1015.4" y="1081.5" font-size="23" font-weight="bold" text-anchor="middle" stroke="#000" stroke-width="1.4" stroke-linejoin="round">4</text>
<rect x="1307" y="983.6" width="31.799999999999955" height="18.400000000000023" rx="2" fill="#000"/><rect x="1313" y="989.6" width="19.799999999999955" height="6.600000000000023" rx="2" fill="#fff"/><rect x="1256.9" y="996.2" width="132.5999999999999" height="92.09999999999991" rx="2" fill="#000"/><rect x="1262.2" y="1002.0" width="28.0" height="40.2" rx="3" fill="#fff"/><rect x="1294.3" y="1002.0" width="28.4" height="40.2" rx="3" fill="#fff"/><rect x="1326.8" y="1002.0" width="27.3" height="40.2" rx="3" fill="#fff"/><rect x="1358.2" y="1002.0" width="25.5" height="40.2" rx="3" fill="#fff"/><rect x="1262.2" y="1047.7" width="28.0" height="34.3" rx="3" fill="#fff"/><rect x="1294.3" y="1047.7" width="28.4" height="34.3" rx="3" fill="#fff"/><rect x="1326.8" y="1047.7" width="27.3" height="34.3" rx="3" fill="#fff"/><rect x="1358.2" y="1047.7" width="25.5" height="34.3" rx="3" fill="#fff"/><line x1="1265.7" y1="1022.1" x2="1286.7" y2="1022.1" stroke="#000" stroke-width="4.5" stroke-linecap="round"/><line x1="1298.0" y1="1022.1" x2="1319.0" y2="1022.1" stroke="#000" stroke-width="4.5" stroke-linecap="round"/><line x1="1330.0" y1="1022.1" x2="1351.0" y2="1022.1" stroke="#000" stroke-width="4.5" stroke-linecap="round"/><text x="1371.0" y="1029.3" font-size="20" font-weight="bold" text-anchor="middle" stroke="#000" stroke-width="1.4" stroke-linejoin="round">1</text><text x="1276.2" y="1072.4" font-size="21" font-weight="bold" text-anchor="middle" stroke="#000" stroke-width="1.4" stroke-linejoin="round">2</text><text x="1308.5" y="1072.4" font-size="21" font-weight="bold" text-anchor="middle" stroke="#000" stroke-width="1.4" stroke-linejoin="round">3</text><text x="1340.5" y="1072.4" font-size="21" font-weight="bold" text-anchor="middle" stroke="#000" stroke-width="1.4" stroke-linejoin="round">4</text><text x="1371.0" y="1072.4" font-size="21" font-weight="bold" text-anchor="middle" stroke="#000" stroke-width="1.4" stroke-linejoin="round">5</text>
<rect x="1630.6" y="977.4" width="25.4" height="20" rx="3" fill="#000"/><rect x="1636" y="984.1" width="14.9" height="8" rx="2" fill="#fff"/><rect x="1615.4" y="1030" width="52.8" height="47.4" rx="3" fill="#000"/><rect x="1621.4" y="1036.5" width="41.3" height="35.4" rx="2" fill="#fff"/><rect x="1601.9" y="991.3" width="82.3" height="46.4" rx="6" fill="#000"/><rect x="1607" y="998" width="71.7" height="34.2" rx="3" fill="#fff"/><text x="1642.7" y="1023.5" font-size="23" font-weight="bold" text-anchor="middle" stroke="#000" stroke-width="1.4" stroke-linejoin="round">1</text><text x="1643.5" y="1062.3" font-size="22" font-weight="bold" text-anchor="middle" stroke="#000" stroke-width="1.4" stroke-linejoin="round">2</text>
</svg>
</body></html>
